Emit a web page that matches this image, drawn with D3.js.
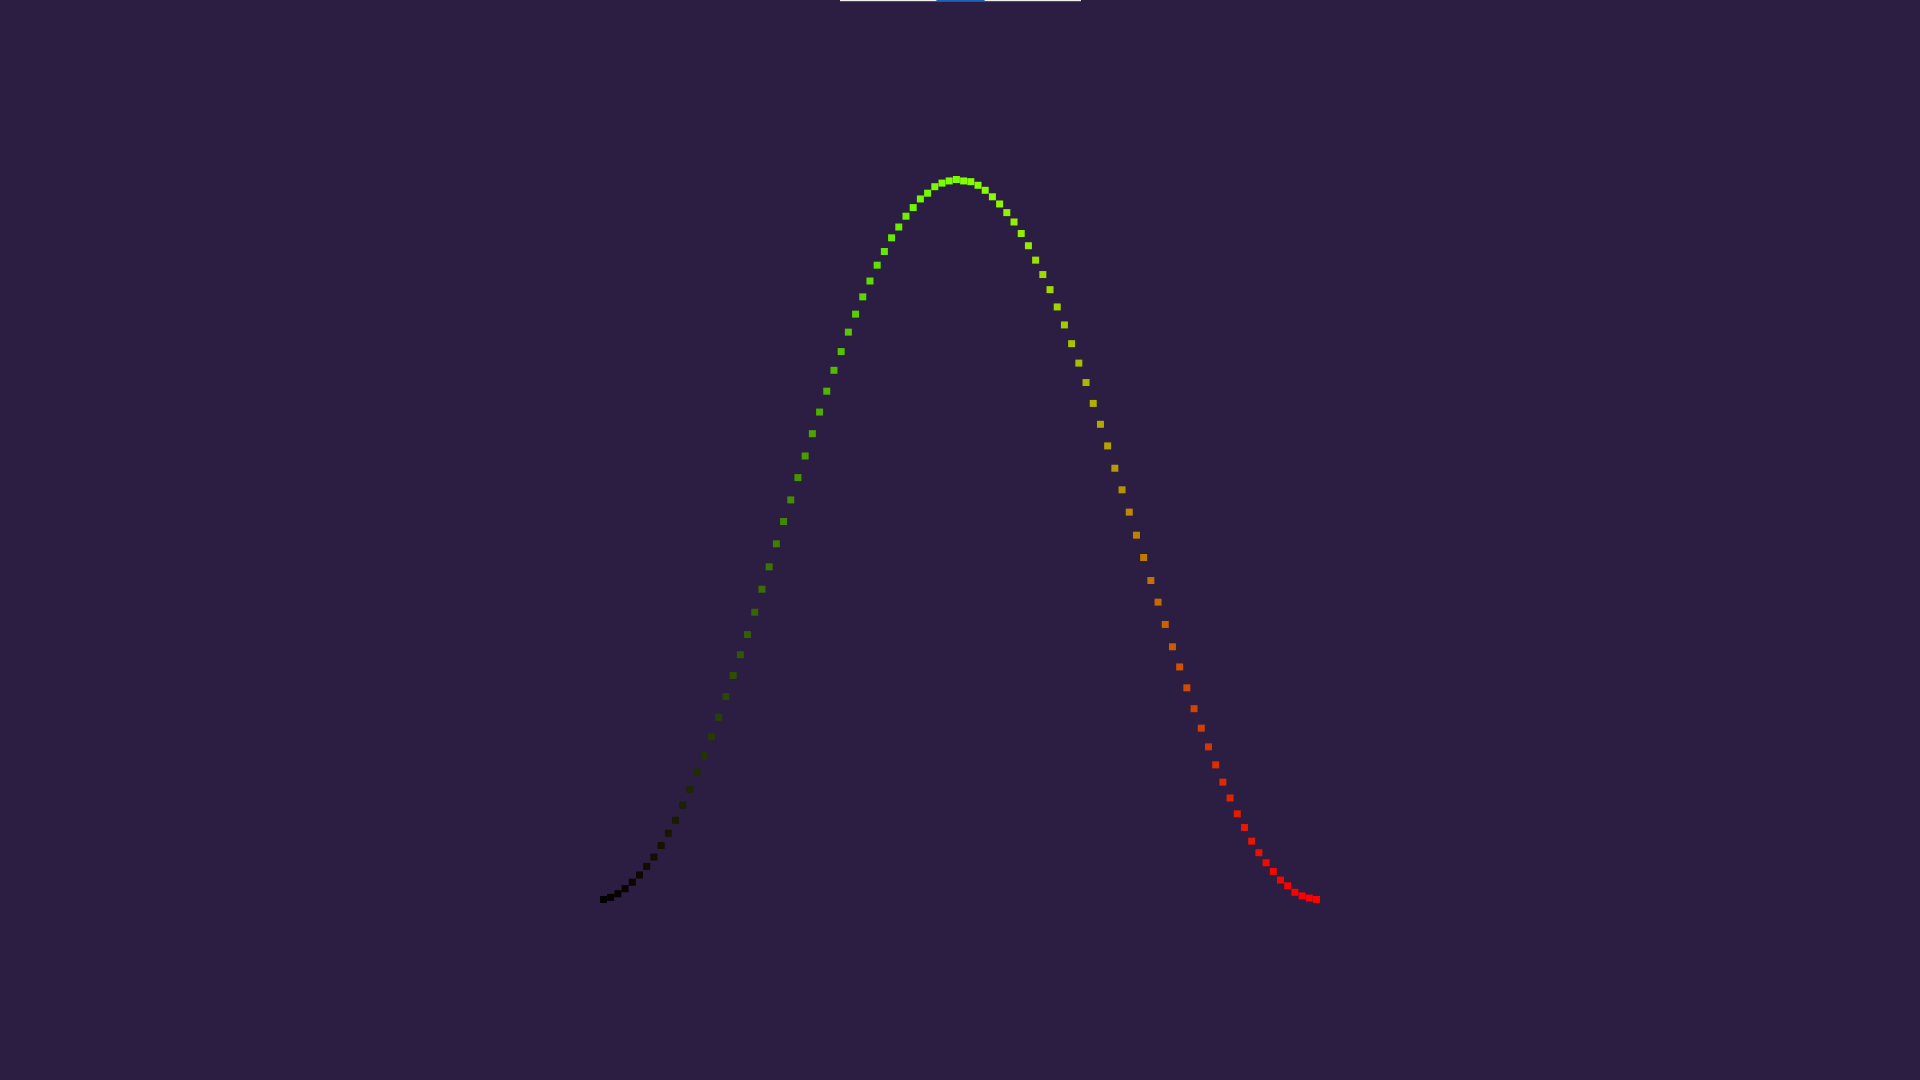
<!DOCTYPE html>
<html>
<head>
<meta charset="utf-8">
<script src="https://cdn.jsdelivr.net/npm/d3@7"></script>
<style>
  html, body { margin: 0; padding: 0; background: #2c1d42; overflow: hidden; }
  svg { display: block; }
</style>
</head>
<body>
<div id="chart"></div>
<script>
// point index along the curve
const pointIndex = d3.range(100);

// curve height (0 = bottom, 1 = peak)
const curveValues = [
  0.000, 0.003, 0.008, 0.015, 0.024, 0.034, 0.046, 0.059, 0.075, 0.092,
  0.110, 0.131, 0.153, 0.177, 0.200, 0.226, 0.253, 0.282, 0.311, 0.340,
  0.368, 0.399, 0.431, 0.462, 0.494, 0.525, 0.555, 0.586, 0.616, 0.647,
  0.677, 0.706, 0.735, 0.761, 0.788, 0.813, 0.837, 0.859, 0.881, 0.900,
  0.919, 0.934, 0.949, 0.961, 0.973, 0.981, 0.990, 0.995, 0.998, 1.000,
  0.998, 0.997, 0.992, 0.985, 0.976, 0.966, 0.954, 0.941, 0.925, 0.908,
  0.888, 0.868, 0.847, 0.823, 0.798, 0.772, 0.745, 0.718, 0.689, 0.660,
  0.630, 0.599, 0.569, 0.538, 0.506, 0.475, 0.443, 0.413, 0.382, 0.351,
  0.323, 0.294, 0.265, 0.238, 0.212, 0.187, 0.163, 0.141, 0.119, 0.100,
  0.081, 0.065, 0.051, 0.039, 0.027, 0.019, 0.010, 0.005, 0.002, 0.000
];

// slider strip at the top edge: track and thumb, in track units
const sliderTrack = [0, 100];
const sliderThumb = [40, 60];

const width = 1920,
  height = 1080,
  size = 7;

const svg = d3.select("#chart")
  .append("svg")
  .attr("width", width)
  .attr("height", height);

const xScale = d3.scaleLinear()
  .domain(d3.extent(pointIndex))
  .range([603.5, 1316.5]);

const yScale = d3.scaleLinear()
  .domain([0, 1])
  .range([899.5, 179.5]);

// red grows with position, green with height
const redScale = d3.scaleLinear().domain(d3.extent(pointIndex)).range([0, 255]);
const greenScale = d3.scaleLinear().domain([0, 1]).range([0, 255]);

const data = pointIndex.map((i) => ({ i: i, v: curveValues[i] }));

svg.append("g")
  .selectAll("rect")
  .data(data)
  .enter()
  .append("rect")
  .attr("x", (d) => xScale(d.i) - size / 2)
  .attr("y", (d) => yScale(d.v) - size / 2)
  .attr("width", size)
  .attr("height", size)
  .attr("fill", (d) => d3.rgb(redScale(d.i), greenScale(d.v), 0).formatHex());

// the slider, mostly off the top of the page
const sliderScale = d3.scaleLinear().domain(sliderTrack).range([840, 1081]);

svg.append("rect")
  .attr("x", sliderScale(sliderTrack[0]))
  .attr("y", 0)
  .attr("width", sliderScale(sliderTrack[1]) - sliderScale(sliderTrack[0]))
  .attr("height", 1.2)
  .attr("fill", "#efefef");

svg.append("rect")
  .attr("x", sliderScale(sliderThumb[0]))
  .attr("y", 0)
  .attr("width", sliderScale(sliderThumb[1]) - sliderScale(sliderThumb[0]))
  .attr("height", 1.2)
  .attr("fill", "#1d63b2");
</script>
</body>
</html>
